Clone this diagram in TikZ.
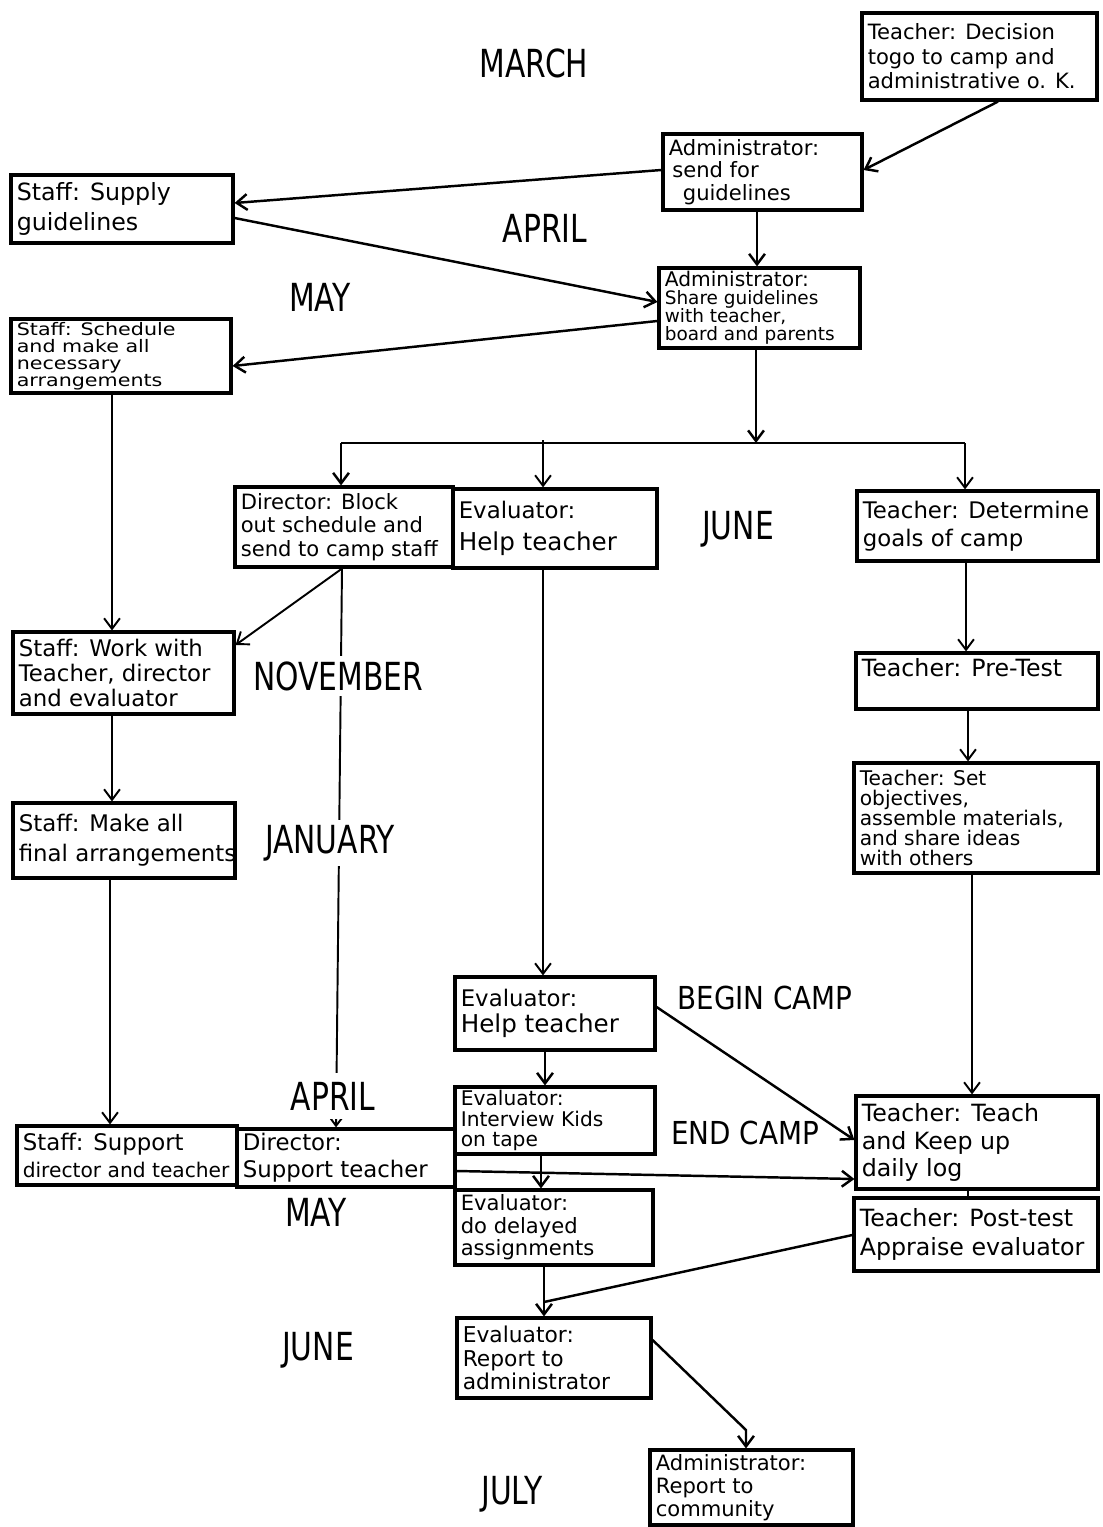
\documentclass[tikz,border=0pt]{standalone}
\usepackage{fontspec}
\setmainfont{DejaVu Sans}
\newfontfamily\monthfont{DejaVu Sans}[FakeStretch=0.77]
\newfontfamily\campfont{DejaVu Sans}[FakeStretch=0.88]
\newfontfamily\widefont{DejaVu Sans}[FakeStretch=1.2]
\usetikzlibrary{arrows.meta,fit}
\tikzset{
  boxst/.style={draw, line width=1.8pt, inner sep=0pt},
  txtst/.style={align=left, inner xsep=4pt, inner ysep=0pt},
  arr/.style={line width=1.4pt, -{Straight Barb[length=6pt,width=9pt]}},
  thinarr/.style={line width=1.1pt, -{Straight Barb[length=6pt,width=9pt]}},
  conn/.style={line width=1.4pt},
  month/.style={font=\monthfont\fontsize{22}{24}\selectfont, inner sep=3pt},
  cover/.style={fill=white},
  camp/.style={font=\campfont\fontsize{18}{20}\selectfont, inner sep=2pt},
}
\newcommand\fz[2]{\fontsize{#1}{#2}\selectfont}
\newcommand\flowbox[7]{%
  \node[boxst, fit={(#2,#3) (#4,#5)}] (#1) {};
  \node[txtst, font={#6}, anchor=west] (#1t) at (#1.west) {#7};
}
\begin{document}
\begin{tikzpicture}[x=0.02cm,y=-0.02cm]
\useasboundingbox (0,0) rectangle (1102,1527);
\fill[white] (0,0) rectangle (1102,1527);

% boxes
\flowbox{T1}{862}{13}{1097}{100}{\fz{12}{14}}{Teacher: Decision\\togo to camp and\\administrative o. K.}
\flowbox{A1}{663}{134}{862}{210}{\fz{12}{12.8}}{Administrator:\\\hspace*{2pt}send for\\\hspace*{8pt}guidelines}
\flowbox{S1}{11}{175}{233}{243}{\fz{13.5}{17}}{Staff: Supply\\guidelines}
\flowbox{A2}{659}{268}{860}{348}{\fz{10.5}{10.2}}{{\fz{11.5}{11.5}Administrator:}\\Share guidelines\\with teacher,\\board and parents}
\flowbox{S2}{11}{319}{231}{393}{\widefont\fz{9.8}{9.6}}{Staff: Schedule\\and make all\\necessary\\arrangements}
\flowbox{Dir}{235}{487}{453}{567}{\fz{12}{13.5}}{Director: Block\\out schedule and\\send to camp staff}
\flowbox{Ev1}{453}{489}{657}{568}{\fz{13}{15}}{Evaluator:\\[3pt]{\fz{14}{16}Help teacher}}
\flowbox{T2}{857}{491}{1098}{561}{\fz{13}{16}}{Teacher: Determine\\goals of camp}
\flowbox{S3}{13}{632}{234}{714}{\fz{13}{14.5}}{Staff: Work with\\Teacher, director\\and evaluator}
\flowbox{T3}{856}{653}{1098}{709}{\fz{13.5}{15}}{Teacher: Pre-Test\\\mbox{}}
\flowbox{T4}{854}{763}{1098}{873}{\fz{11.5}{11.3}}{Teacher: Set\\objectives,\\assemble materials,\\and share ideas\\with others}
\flowbox{S4}{13}{803}{235}{878}{\fz{13}{17}}{Staff: Make all\\final arrangements}
\flowbox{E2}{455}{977}{655}{1050}{\fz{13}{15}}{Evaluator:\\{\fz{14}{16}Help teacher}}
\flowbox{E3}{455}{1087}{655}{1154}{\fz{11.5}{11.5}}{Evaluator:\\Interview Kids\\on tape}
\flowbox{T5}{856}{1096}{1098}{1189}{\fz{13.5}{15.5}}{Teacher: Teach\\and Keep up\\daily log}
\flowbox{S5}{17}{1126}{237}{1185}{\fz{11.5}{15}}{{\fz{13}{15}Staff: Support}\\director and teacher}
\flowbox{D2}{237}{1129}{455}{1187}{\fz{13}{15.5}}{Director:\\Support teacher}
\flowbox{E4}{455}{1190}{653}{1265}{\fz{12}{12.8}}{Evaluator:\\do delayed\\assignments}
\flowbox{T6}{854}{1198}{1098}{1271}{\fz{13.5}{17}}{Teacher: Post-test\\Appraise evaluator}
\flowbox{E5}{457}{1318}{651}{1398}{\fz{12.4}{13.5}}{Evaluator:\\Report to\\administrator}
\flowbox{A3}{650}{1450}{853}{1525}{\fz{12}{13}}{Administrator:\\Report to\\community}

% connectors
\coordinate (br) at (756,443);
\coordinate (brL) at (341,443);
\coordinate (brM) at (543,440);
\coordinate (brR) at (965,443);
\coordinate (j1) at (544,1302);
\coordinate (bend) at (746,1430);

\draw[arr] (998,0 |- T1.south) -- (A1.east |- 0,170);
\draw[arr] (A1.west |- 0,170) -- (S1.east |- 0,203);
\draw[arr] (S1.east |- 0,218) -- (A2.west |- 0,302);
\draw[arr] (757,0 |- A1.south) -- (757,0 |- A2.north);
\draw[arr] (A2.west |- 0,321) -- (S2.east |- 0,366);
\draw[arr] (756,0 |- A2.south) -- (br);
\draw[conn] (brL) -- (brR);
\draw[arr] (brL) -- (341,0 |- Dir.north);
\draw[thinarr] (brM) -- (543,0 |- Ev1.north);
\draw[thinarr] (brR) -- (965,0 |- T2.north);
\draw[thinarr] (112,0 |- S2.south) -- (112,0 |- S3.north);
\draw[thinarr] (342,0 |- Dir.south) -- (S3.east |- 0,645);
\draw[thinarr] (342,0 |- Dir.south) -- (336,0 |- D2.north);
\draw[thinarr] (112,0 |- S3.south) -- (112,0 |- S4.north);
\draw[thinarr] (110,0 |- S4.south) -- (110,0 |- S5.north);
\draw[thinarr] (543,0 |- Ev1.south) -- (543,0 |- E2.north);
\draw[thinarr] (966,0 |- T2.south) -- (966,0 |- T3.north);
\draw[thinarr] (968,0 |- T3.south) -- (968,0 |- T4.north);
\draw[thinarr] (972,0 |- T4.south) -- (972,0 |- T5.north);
\draw[arr] (E2.east |- 0,1007) -- (T5.west |- 0,1140);
\draw[arr] (545,0 |- E2.south) -- (545,0 |- E3.north);
\draw[arr] (541,0 |- E3.south) -- (541,0 |- E4.north);
\draw[arr] (D2.east |- 0,1171) -- (T5.west |- 0,1179);
\draw[conn] (968,0 |- T5.south) -- (968,0 |- T6.north);
\draw[arr] (544,0 |- E4.south) -- (544,0 |- E5.north);
\draw[conn] (T6.west |- 0,1235) -- (j1);
\draw[arr] (E5.east |- 0,1340) -- (bend) -- (746,0 |- A3.north);

% labels
\node[month] (mMarch) at (534,63) {MARCH};
\node[month] (mApril) at (545,228) {APRIL};
\node[month] (mMay) at (320,297) {MAY};
\node[month] (mJune) at (738,529) {JUNE};
\node[month,cover] (mNov) at (338,676) {NOVEMBER};
\node[month,cover] (mJan) at (330,843) {JANUARY};
\node[camp] (mBegin) at (765,998) {BEGIN CAMP};
\node[month,cover,inner ysep=5pt] (mApril2) at (333,1096) {APRIL};
\node[camp] (mEnd) at (745,1133) {END CAMP};
\node[month] (mMay2) at (316,1212) {MAY};
\node[month] (mJune2) at (318,1350) {JUNE};
\node[month] (mJuly) at (512,1494) {JULY};
\end{tikzpicture}
\end{document}
